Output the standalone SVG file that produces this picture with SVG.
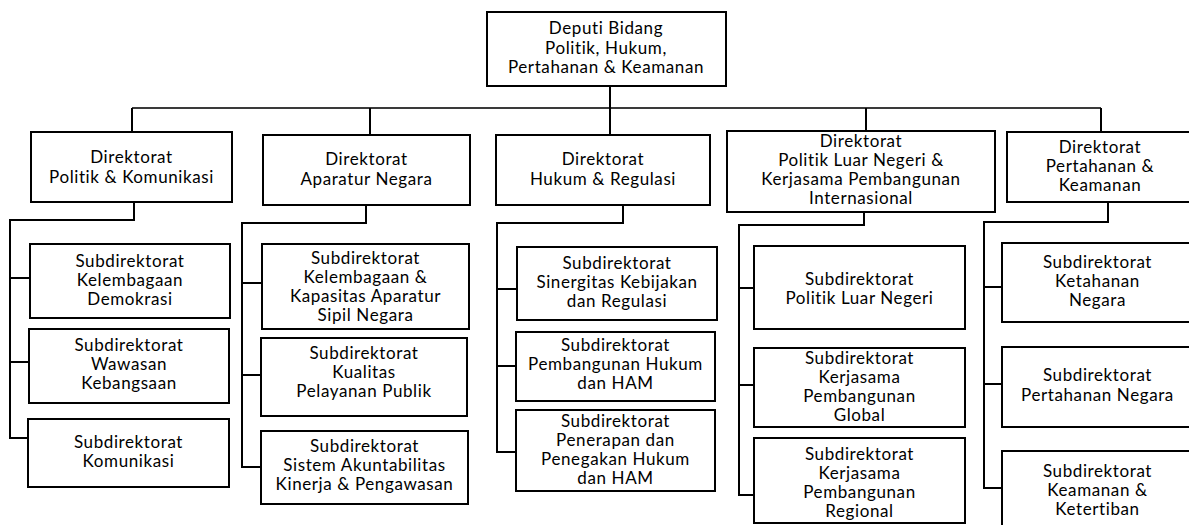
<svg xmlns="http://www.w3.org/2000/svg" width="1189" height="525" viewBox="0 0 1189 525">
  <style>
    .box { fill: #ffffff; stroke: #000000; stroke-width: 2; }
    .lbl { font-family: Lato, "Open Sans", sans-serif; font-size: 17px; letter-spacing: 0.6px; fill: #000000; text-anchor: middle; }
    .wire { fill: none; stroke: #000000; stroke-width: 2; }
    .bus { fill: none; stroke: #3a3a3a; stroke-width: 2; }
  </style>
  <rect width="1189" height="525" fill="#ffffff"/>

  <!-- connectors -->
  <g id="connectors">
    <path class="bus" d="M132 108 H1101"/>
    <path class="wire" d="M610 86 V135"/>
    <path class="wire" d="M132 108 V132 M370 108 V135 M866 108 V131 M1101 108 V132"/>
    <!-- column 1 -->
    <path class="wire" d="M134 202 V220 H10 V438 H29 M10 278 H30 M10 362 H29"/>
    <!-- column 2 -->
    <path class="wire" d="M366 205 V223 H242 V467 H261 M242 283 H262 M242 375 H261"/>
    <!-- column 3 -->
    <path class="wire" d="M623 205 V223 H497 V452 H516 M497 289 H517 M497 366 H516"/>
    <!-- column 4 -->
    <path class="wire" d="M864 212 V225 H739 V495 H754 M739 288 H754 M739 385 H754"/>
    <!-- column 5 -->
    <path class="wire" d="M1108 202 V222 H984 V488 H1002 M984 287 H1002 M984 384 H1002"/>
  </g>

  <!-- top level -->
  <g id="deputi">
    <rect class="box" x="487" y="12" width="239" height="74"/>
    <text class="lbl"><tspan x="606" y="34">Deputi Bidang</tspan><tspan x="606" y="54">Politik, Hukum,</tspan><tspan x="606" y="73">Pertahanan &amp; Keamanan</tspan></text>
  </g>

  <!-- directorates -->
  <g id="dir-polkom">
    <rect class="box" x="31" y="132" width="201" height="70"/>
    <text class="lbl"><tspan x="131.5" y="163">Direktorat</tspan><tspan x="131.5" y="183">Politik &amp; Komunikasi</tspan></text>
  </g>
  <g id="dir-aparatur">
    <rect class="box" x="263" y="135" width="207" height="70"/>
    <text class="lbl"><tspan x="366.5" y="165">Direktorat</tspan><tspan x="366.5" y="185">Aparatur Negara</tspan></text>
  </g>
  <g id="dir-hukum">
    <rect class="box" x="496" y="135" width="214" height="70"/>
    <text class="lbl"><tspan x="603" y="165">Direktorat</tspan><tspan x="603" y="185">Hukum &amp; Regulasi</tspan></text>
  </g>
  <g id="dir-polugri">
    <rect class="box" x="727" y="131" width="268" height="81"/>
    <text class="lbl"><tspan x="861" y="147">Direktorat</tspan><tspan x="861" y="166">Politik Luar Negeri &amp;</tspan><tspan x="861" y="185">Kerjasama Pembangunan</tspan><tspan x="861" y="204">Internasional</tspan></text>
  </g>
  <g id="dir-hankam">
    <rect class="box" x="1007" y="132" width="186" height="70"/>
    <text class="lbl"><tspan x="1100" y="153">Direktorat</tspan><tspan x="1100" y="172">Pertahanan &amp;</tspan><tspan x="1100" y="191">Keamanan</tspan></text>
  </g>

  <!-- column 1 -->
  <g id="sub-kelembagaan-demokrasi">
    <rect class="box" x="30" y="244" width="200" height="74"/>
    <text class="lbl"><tspan x="130" y="267">Subdirektorat</tspan><tspan x="130" y="286">Kelembagaan</tspan><tspan x="130" y="305">Demokrasi</tspan></text>
  </g>
  <g id="sub-wawasan">
    <rect class="box" x="29" y="329" width="200" height="74"/>
    <text class="lbl"><tspan x="129" y="351">Subdirektorat</tspan><tspan x="129" y="370">Wawasan</tspan><tspan x="129" y="389">Kebangsaan</tspan></text>
  </g>
  <g id="sub-komunikasi">
    <rect class="box" x="28" y="419" width="201" height="68"/>
    <text class="lbl"><tspan x="128.5" y="448">Subdirektorat</tspan><tspan x="128.5" y="467">Komunikasi</tspan></text>
  </g>

  <!-- column 2 -->
  <g id="sub-kapasitas-asn">
    <rect class="box" x="262" y="244" width="207" height="85"/>
    <text class="lbl"><tspan x="365.5" y="264">Subdirektorat</tspan><tspan x="365.5" y="283">Kelembagaan &amp;</tspan><tspan x="365.5" y="302">Kapasitas Aparatur</tspan><tspan x="365.5" y="321">Sipil Negara</tspan></text>
  </g>
  <g id="sub-pelayanan-publik">
    <rect class="box" x="261" y="338" width="206" height="78"/>
    <text class="lbl"><tspan x="364" y="359">Subdirektorat</tspan><tspan x="364" y="378">Kualitas</tspan><tspan x="364" y="397">Pelayanan Publik</tspan></text>
  </g>
  <g id="sub-akuntabilitas">
    <rect class="box" x="261" y="431" width="207" height="73"/>
    <text class="lbl"><tspan x="364.5" y="452">Subdirektorat</tspan><tspan x="364.5" y="471">Sistem Akuntabilitas</tspan><tspan x="364.5" y="490">Kinerja &amp; Pengawasan</tspan></text>
  </g>

  <!-- column 3 -->
  <g id="sub-sinergitas">
    <rect class="box" x="517" y="247" width="200" height="73"/>
    <text class="lbl"><tspan x="617" y="269">Subdirektorat</tspan><tspan x="617" y="288">Sinergitas Kebijakan</tspan><tspan x="617" y="307">dan Regulasi</tspan></text>
  </g>
  <g id="sub-pembangunan-hukum">
    <rect class="box" x="516" y="332" width="199" height="69"/>
    <text class="lbl"><tspan x="615.5" y="351">Subdirektorat</tspan><tspan x="615.5" y="370">Pembangunan Hukum</tspan><tspan x="615.5" y="389">dan HAM</tspan></text>
  </g>
  <g id="sub-penegakan-hukum">
    <rect class="box" x="516" y="410" width="199" height="81"/>
    <text class="lbl"><tspan x="615.5" y="427">Subdirektorat</tspan><tspan x="615.5" y="446">Penerapan dan</tspan><tspan x="615.5" y="465">Penegakan Hukum</tspan><tspan x="615.5" y="484">dan HAM</tspan></text>
  </g>

  <!-- column 4 -->
  <g id="sub-polugri">
    <rect class="box" x="754" y="246" width="211" height="83"/>
    <text class="lbl"><tspan x="859.5" y="285">Subdirektorat</tspan><tspan x="859.5" y="304">Politik Luar Negeri</tspan></text>
  </g>
  <g id="sub-kerjasama-global">
    <rect class="box" x="754" y="348" width="211" height="79"/>
    <text class="lbl"><tspan x="859.5" y="364">Subdirektorat</tspan><tspan x="859.5" y="383">Kerjasama</tspan><tspan x="859.5" y="402">Pembangunan</tspan><tspan x="859.5" y="421">Global</tspan></text>
  </g>
  <g id="sub-kerjasama-regional">
    <rect class="box" x="754" y="438" width="211" height="85"/>
    <text class="lbl"><tspan x="859.5" y="460">Subdirektorat</tspan><tspan x="859.5" y="479">Kerjasama</tspan><tspan x="859.5" y="498">Pembangunan</tspan><tspan x="859.5" y="517">Regional</tspan></text>
  </g>

  <!-- column 5 -->
  <g id="sub-ketahanan">
    <rect class="box" x="1002" y="243" width="192" height="79"/>
    <text class="lbl"><tspan x="1097.5" y="268">Subdirektorat</tspan><tspan x="1097.5" y="287">Ketahanan</tspan><tspan x="1097.5" y="306">Negara</tspan></text>
  </g>
  <g id="sub-pertahanan">
    <rect class="box" x="1002" y="347" width="192" height="80"/>
    <text class="lbl"><tspan x="1097.5" y="381">Subdirektorat</tspan><tspan x="1097.5" y="401">Pertahanan Negara</tspan></text>
  </g>
  <g id="sub-keamanan">
    <rect class="box" x="1002" y="451" width="192" height="80"/>
    <text class="lbl"><tspan x="1097.5" y="477">Subdirektorat</tspan><tspan x="1097.5" y="496">Keamanan &amp;</tspan><tspan x="1097.5" y="515">Ketertiban</tspan></text>
  </g>
</svg>
